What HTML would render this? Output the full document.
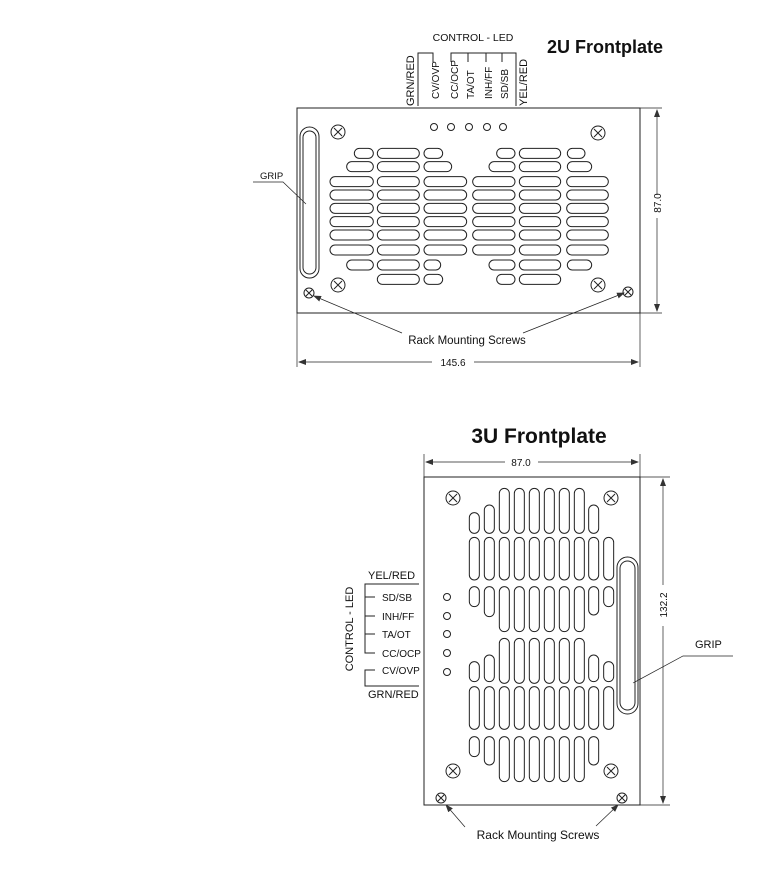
<!DOCTYPE html>
<html><head><meta charset="utf-8"><style>
html,body{margin:0;padding:0;background:#fff;}
svg{display:block;font-family:"Liberation Sans",sans-serif;}
</style></head><body>
<svg width="769" height="875" viewBox="0 0 769 875" xmlns="http://www.w3.org/2000/svg">
<defs>
<marker id="ar" markerWidth="8" markerHeight="6" refX="7" refY="3" orient="auto" markerUnits="userSpaceOnUse"><path d="M0,0 L8,3 L0,6 z" fill="#333"/></marker>
</defs>
<g fill="none" stroke="#222" stroke-width="1">
<!-- ===== 2U ===== -->
<rect x="297" y="108" width="343" height="205"/>
<line x1="640" y1="108" x2="662" y2="108" stroke-width="0.7"/>
<line x1="640" y1="313" x2="662" y2="313" stroke-width="0.7"/>
<line x1="657" y1="195" x2="657" y2="110" stroke-width="0.7" marker-end="url(#ar)"/>
<line x1="657" y1="218" x2="657" y2="311" stroke-width="0.7" marker-end="url(#ar)"/>
<line x1="297" y1="313" x2="297" y2="367" stroke-width="0.7"/>
<line x1="640" y1="313" x2="640" y2="367" stroke-width="0.7"/>
<line x1="432" y1="362" x2="299" y2="362" stroke-width="0.7" marker-end="url(#ar)"/>
<line x1="474" y1="362" x2="638" y2="362" stroke-width="0.7" marker-end="url(#ar)"/>
<line x1="402" y1="333" x2="314" y2="296" stroke-width="0.7" marker-end="url(#ar)"/>
<line x1="523" y1="333" x2="624" y2="293" stroke-width="0.7" marker-end="url(#ar)"/>
<polyline points="253,182 283,182 306,204" stroke-width="0.7"/>
<polyline points="418,106 418,53 433,53 433,62"/>
<polyline points="451,62 451,53 516,53 516,106"/>
<line x1="468" y1="53" x2="468" y2="62"/>
<line x1="486" y1="53" x2="486" y2="62"/>
<line x1="502" y1="53" x2="502" y2="62"/>
<circle cx="434" cy="127" r="3.5"/><circle cx="451" cy="127" r="3.5"/><circle cx="469" cy="127" r="3.5"/><circle cx="487" cy="127" r="3.5"/><circle cx="503" cy="127" r="3.5"/>
<rect x="300" y="127" width="19" height="151" rx="9.5"/>
<rect x="303" y="131" width="13" height="143" rx="6.5"/>
<g>
<circle cx="338" cy="132" r="7"/><path d="M334,128 L342,136 M342,128 L334,136"/>
<circle cx="598" cy="133" r="7"/><path d="M594,129 L602,137 M602,129 L594,137"/>
<circle cx="338" cy="285" r="7"/><path d="M334,281 L342,289 M342,281 L334,289"/>
<circle cx="598" cy="285" r="7"/><path d="M594,281 L602,289 M602,281 L594,289"/>
<circle cx="309" cy="293" r="5"/><path d="M306,290 L312,296 M312,290 L306,296"/>
<circle cx="628" cy="292" r="5"/><path d="M625,289 L631,295 M631,289 L625,295"/>
</g>
<g transform="translate(290,30) scale(0.33333)" stroke-width="3">
<rect x="193" y="355" width="57" height="30" rx="15"/><rect x="262" y="355" width="126" height="30" rx="15"/><rect x="402" y="355" width="56" height="30" rx="15"/><rect x="620" y="355" width="55" height="30" rx="15"/><rect x="688" y="355" width="124" height="30" rx="15"/><rect x="832" y="355" width="53" height="30" rx="15"/>
<rect x="170" y="395" width="80" height="30" rx="15"/><rect x="262" y="395" width="126" height="30" rx="15"/><rect x="402" y="395" width="83" height="30" rx="15"/><rect x="597" y="395" width="78" height="30" rx="15"/><rect x="688" y="395" width="124" height="30" rx="15"/><rect x="832" y="395" width="73" height="30" rx="15"/>
<g id="r3"><rect x="120" y="440" width="130" height="30" rx="15"/><rect x="262" y="440" width="126" height="30" rx="15"/><rect x="402" y="440" width="128" height="30" rx="15"/><rect x="548" y="440" width="127" height="30" rx="15"/><rect x="688" y="440" width="124" height="30" rx="15"/><rect x="830" y="440" width="125" height="30" rx="15"/></g>
<use href="#r3" y="40"/><use href="#r3" y="80"/><use href="#r3" y="120"/><use href="#r3" y="160"/><use href="#r3" y="205"/>
<rect x="170" y="690" width="80" height="30" rx="15"/><rect x="262" y="690" width="126" height="30" rx="15"/><rect x="402" y="690" width="50" height="30" rx="15"/><rect x="597" y="690" width="78" height="30" rx="15"/><rect x="688" y="690" width="124" height="30" rx="15"/><rect x="832" y="690" width="73" height="30" rx="15"/>
<rect x="262" y="733" width="126" height="30" rx="15"/><rect x="402" y="733" width="56" height="30" rx="15"/><rect x="620" y="733" width="55" height="30" rx="15"/><rect x="688" y="733" width="124" height="30" rx="15"/>
</g>

<!-- ===== 3U ===== -->
<rect x="424" y="477" width="216" height="328"/>
<line x1="424" y1="454" x2="424" y2="477" stroke-width="0.7"/>
<line x1="640" y1="454" x2="640" y2="477" stroke-width="0.7"/>
<line x1="505" y1="462" x2="426" y2="462" stroke-width="0.7" marker-end="url(#ar)"/>
<line x1="538" y1="462" x2="638" y2="462" stroke-width="0.7" marker-end="url(#ar)"/>
<line x1="640" y1="477" x2="670" y2="477" stroke-width="0.7"/>
<line x1="640" y1="805" x2="670" y2="805" stroke-width="0.7"/>
<line x1="663" y1="585" x2="663" y2="479" stroke-width="0.7" marker-end="url(#ar)"/>
<line x1="663" y1="626" x2="663" y2="803" stroke-width="0.7" marker-end="url(#ar)"/>
<line x1="465" y1="827" x2="446" y2="805" stroke-width="0.7" marker-end="url(#ar)"/>
<line x1="596" y1="826" x2="618" y2="805" stroke-width="0.7" marker-end="url(#ar)"/>
<polyline points="733,656 683,656 633,683" stroke-width="0.7"/>
<polyline points="419,584 365,584 365,653 375,653"/>
<line x1="365" y1="597" x2="375" y2="597"/><line x1="365" y1="616" x2="375" y2="616"/><line x1="365" y1="634" x2="375" y2="634"/>
<polyline points="375,670 365,670 365,686 419,686"/>
<circle cx="447" cy="597" r="3.5"/><circle cx="447" cy="616" r="3.5"/><circle cx="447" cy="634" r="3.5"/><circle cx="447" cy="653" r="3.5"/><circle cx="447" cy="672" r="3.5"/>
<rect x="617" y="557" width="21" height="157" rx="10.5"/>
<rect x="620" y="561" width="15" height="149" rx="7.5"/>
<circle cx="453" cy="498" r="7"/><path d="M449,494 L457,502 M457,494 L449,502"/>
<circle cx="611" cy="498" r="7"/><path d="M607,494 L615,502 M615,494 L607,502"/>
<circle cx="453" cy="771" r="7"/><path d="M449,767 L457,775 M457,767 L449,775"/>
<circle cx="611" cy="771" r="7"/><path d="M607,767 L615,775 M615,767 L607,775"/>
<circle cx="441" cy="798" r="5"/><path d="M438,795 L444,801 M444,795 L438,801"/>
<circle cx="622" cy="798" r="5"/><path d="M619,795 L625,801 M625,795 L619,801"/>
<g transform="translate(330,420) scale(0.33333)" stroke-width="3">
<rect x="418" y="278" width="30" height="62" rx="15"/><rect x="463" y="255" width="30" height="85" rx="15"/>
<g id="c6a"><rect x="508" y="205" width="30" height="135" rx="15"/><rect x="553" y="205" width="30" height="135" rx="15"/><rect x="598" y="205" width="30" height="135" rx="15"/><rect x="643" y="205" width="30" height="135" rx="15"/><rect x="688" y="205" width="30" height="135" rx="15"/><rect x="733" y="205" width="30" height="135" rx="15"/></g>
<rect x="776" y="255" width="30" height="85" rx="15"/>
<g id="g10"><rect x="418" y="352" width="30" height="128" rx="15"/><rect x="463" y="352" width="30" height="128" rx="15"/><rect x="508" y="352" width="30" height="128" rx="15"/><rect x="553" y="352" width="30" height="128" rx="15"/><rect x="598" y="352" width="30" height="128" rx="15"/><rect x="643" y="352" width="30" height="128" rx="15"/><rect x="688" y="352" width="30" height="128" rx="15"/><rect x="733" y="352" width="30" height="128" rx="15"/><rect x="776" y="352" width="30" height="128" rx="15"/><rect x="821" y="352" width="30" height="128" rx="15"/></g>
<rect x="418" y="500" width="30" height="60" rx="15"/><rect x="463" y="500" width="30" height="90" rx="15"/>
<use href="#c6a" y="295"/>
<rect x="776" y="500" width="30" height="85" rx="15"/><rect x="821" y="500" width="30" height="60" rx="15"/>
<rect x="418" y="725" width="30" height="60" rx="15"/><rect x="463" y="705" width="30" height="80" rx="15"/>
<use href="#c6a" y="450"/>
<rect x="776" y="705" width="30" height="80" rx="15"/><rect x="821" y="725" width="30" height="60" rx="15"/>
<use href="#g10" y="448"/>
<rect x="418" y="950" width="30" height="60" rx="15"/><rect x="463" y="950" width="30" height="85" rx="15"/>
<use href="#c6a" y="745"/>
<rect x="776" y="950" width="30" height="85" rx="15"/>
</g>
</g>

<g fill="#111" stroke="none">
<text x="547" y="53" font-size="18" font-weight="bold">2U Frontplate</text>
<text x="473" y="41" font-size="10.5" text-anchor="middle">CONTROL - LED</text>
<g font-size="10">
<text transform="translate(414,106) rotate(-90)" font-size="11">GRN/RED</text>
<text transform="translate(439,99) rotate(-90)">CV/OVP</text>
<text transform="translate(458,99) rotate(-90)">CC/OCP</text>
<text transform="translate(474,99) rotate(-90)">TA/OT</text>
<text transform="translate(492,99) rotate(-90)">INH/FF</text>
<text transform="translate(508,99) rotate(-90)">SD/SB</text>
<text transform="translate(527,106) rotate(-90)" font-size="11">YEL/RED</text>
<text transform="translate(661,203) rotate(-90)" text-anchor="middle">87.0</text>
<text x="453" y="366" text-anchor="middle">145.6</text>
<text x="260" y="179" font-size="9.5">GRIP</text>
</g>
<text x="467" y="344" font-size="11.5" text-anchor="middle">Rack Mounting Screws</text>
<text x="539" y="443" font-size="21" font-weight="bold" text-anchor="middle">3U Frontplate</text>
<g font-size="10">
<text x="521" y="466" text-anchor="middle">87.0</text>
<text transform="translate(667,605) rotate(-90)" text-anchor="middle">132.2</text>
<text x="695" y="648" font-size="11">GRIP</text>
<text x="368" y="579" font-size="11">YEL/RED</text>
<text x="382" y="601">SD/SB</text>
<text x="382" y="620">INH/FF</text>
<text x="382" y="638">TA/OT</text>
<text x="382" y="657">CC/OCP</text>
<text x="382" y="674">CV/OVP</text>
<text x="368" y="698" font-size="11">GRN/RED</text>
<text transform="translate(353,629) rotate(-90)" text-anchor="middle" font-size="11">CONTROL - LED</text>
</g>
<text x="538" y="839" font-size="12" text-anchor="middle">Rack Mounting Screws</text>
</g>
</svg>
</body></html>
